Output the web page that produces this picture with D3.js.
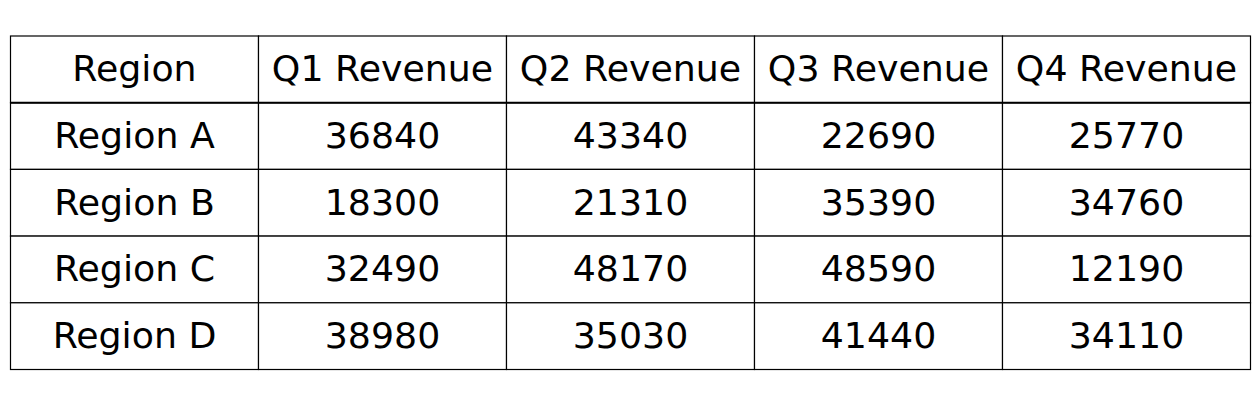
<!DOCTYPE html>
<html>
<head>
<meta charset="utf-8">
<script src="https://cdn.jsdelivr.net/npm/d3@7"></script>
<style>
  body { margin: 0; background: #fff; }
  svg text { font-family: "DejaVu Sans", sans-serif; }
</style>
</head>
<body>
<div id="chart"></div>
<script>
var columns = ["Region", "Q1 Revenue", "Q2 Revenue", "Q3 Revenue", "Q4 Revenue"];
var regions = ["Region A", "Region B", "Region C", "Region D"];
var q1 = [36840, 18300, 32490, 38980];
var q2 = [43340, 21310, 48170, 35030];
var q3 = [22690, 35390, 48590, 41440];
var q4 = [25770, 34760, 12190, 34110];

function drawTable() {
  var width = 1260, height = 405;
  var svg = d3.select("#chart").append("svg")
    .attr("width", width)
    .attr("height", height);

  var rows = [columns];
  for (var i = 0; i < regions.length; i++) {
    rows.push([regions[i], q1[i], q2[i], q3[i], q4[i]]);
  }

  var x = d3.scaleBand().domain(d3.range(columns.length)).range([10.5, 1250.5]);
  var y = d3.scaleBand().domain(d3.range(rows.length)).range([36, 369.5]);

  var rowG = svg.selectAll("g.row")
    .data(rows)
    .enter().append("g")
    .attr("class", "row")
    .attr("transform", function(d, i) { return "translate(0," + y(i) + ")"; });

  var cells = rowG.selectAll("g.cell")
    .data(function(d) { return d; })
    .enter().append("g")
    .attr("class", "cell")
    .attr("transform", function(d, j) { return "translate(" + x(j) + ",0)"; });

  cells.append("rect")
    .attr("width", x.bandwidth())
    .attr("height", y.bandwidth())
    .attr("fill", "#fff")
    .attr("stroke", "#000")
    .attr("stroke-width", 1.2);

  cells.append("text")
    .attr("x", x.bandwidth() / 2)
    .attr("y", y.bandwidth() / 2)
    .attr("dy", function(d, j) { return "0.33em"; })
    .attr("text-anchor", "middle")
    .style("font-size", "36.3px")
    .style("fill", "#000")
    .text(function(d) { return d; });

  // thicker line under the header row
  svg.append("line")
    .attr("x1", 10.5).attr("x2", 1250.5)
    .attr("y1", y(1)).attr("y2", y(1))
    .attr("stroke", "#000")
    .attr("stroke-width", 2);
}

drawTable();
</script>
</body>
</html>
